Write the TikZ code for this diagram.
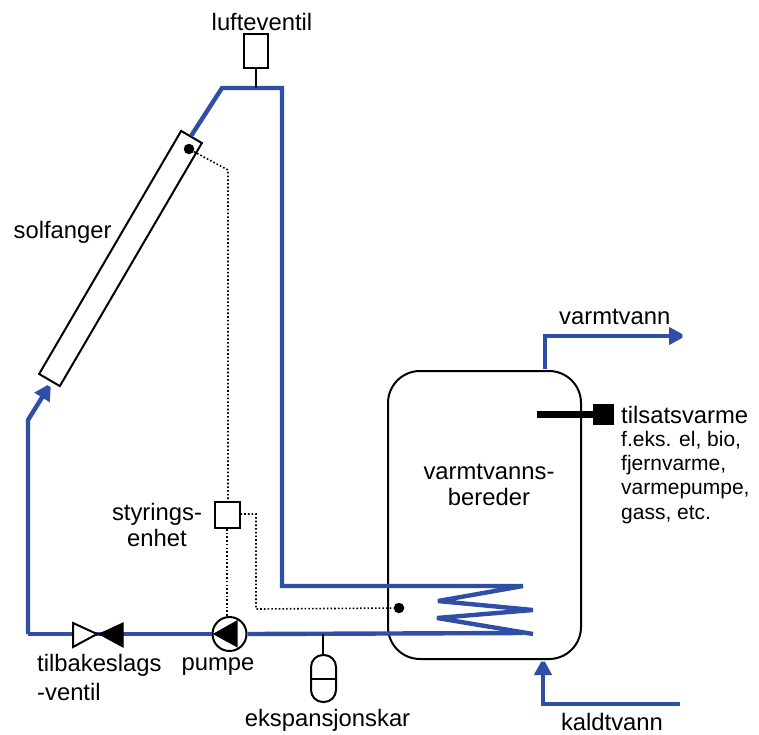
\documentclass[tikz,border=0pt]{standalone}
\usepackage{fontspec}
\setmainfont{Liberation Sans}
\usetikzlibrary{arrows.meta}
\definecolor{pipeblue}{HTML}{2E4FA5}
\tikzset{
  pipe/.style={draw=pipeblue,line width=4.4pt,line join=miter,miter limit=2},
  flow/.style={pipe,-{Triangle[length=17pt,width=17pt]}},
  wire/.style={draw=black,line width=2pt},
  signal/.style={draw=black,line width=1.6pt,dash pattern=on 1.6pt off 2.1pt},
  box/.style={draw=black,line width=2pt,fill=white,inner sep=0pt},
  sensor/.style={circle,fill=black,inner sep=0pt,minimum size=10.5pt},
  big/.style={inner sep=0pt,font=\fontsize{23.8}{26}\selectfont,align=center},
  lefttext/.style={inner sep=0pt,font=\fontsize{23.8}{29}\selectfont,align=left},
  small/.style={inner sep=0pt,font=\fontsize{21}{24.2}\selectfont,align=left}
}
\begin{document}
\begin{tikzpicture}[x=1pt,y=-1pt]
\useasboundingbox (0,0) rectangle (759,734);
% tank
\node[draw=black,line width=2pt,rounded corners=32pt,minimum width=193pt,minimum height=288pt,inner sep=0pt] (tank) at (484.5,515) {};
% named points
\coordinate (bl) at (28,634);
\coordinate (ml) at (28,420);
\coordinate (ct) at (222,88);
\coordinate (rt) at (282,88);
\coordinate (rb) at (282,586);
\coordinate (c0) at (523,586);
\coordinate (c1) at (438,601);
\coordinate (c2) at (533,610);
\coordinate (c3) at (437,618);
\coordinate (c4) at (533,634);
\coordinate (c5) at (523,633);
% collector
\node[box,rotate=59.7,minimum width=281.5pt,minimum height=24pt] (sol) at (120.5,258.5) {};
\coordinate (solin) at (51,383);
\coordinate (solout) at (191,136);
% pump and other nodes
\node[circle,draw=black,line width=2pt,fill=white,minimum size=34pt,inner sep=0pt] (pump) at (229.5,634) {};
\node[box,minimum width=24pt,minimum height=34pt] (air) at (256,51) {};
\coordinate (airfoot) at (256,88);
\node[box,minimum width=25pt,minimum height=26pt] (ctrl) at (227,515) {};
\node[box,rounded corners=12pt,minimum width=25pt,minimum height=47pt] (exp) at (323.5,678.5) {};
\coordinate (expfoot) at (323,634);
\node[sensor] (s1) at (189,149) {};
\node[sensor] (s2) at (399,608) {};
\coordinate (d1) at (228,170);
\coordinate (d2) at (256,514);
\coordinate (d3) at (256,609);
% pipes
\draw[flow] (bl) -- (ml) -- (solin);
\draw[pipe] (bl) -- (pump.west);
\draw[pipe] (pump.east) -- (c5);
\draw[pipe] (solout) -- (ct) -- (rt) -- (rb) -- (c0) -- (c1) -- (c2) -- (c3) -- (c4);
\coordinate (kin) at (680,704);
\coordinate (kc) at (543,704);
\coordinate (ktip) at (543,658);
\draw[flow] (kin) -- (kc) -- (ktip);
\coordinate (vs) at (545,369);
\coordinate (vc) at (545,336);
\coordinate (vtip) at (686,336);
\draw[flow] (vs) -- (vc) -- (vtip);
% valve
\draw[wire,fill=white,line join=miter] (73,623) -- (97,634) -- (73,647) -- cycle;
\fill[black,draw=black,line width=1pt] (123,623) -- (99,634) -- (123,647) -- cycle;
% pump triangle
\fill[black] (212.7,634) -- (237.5,620) -- (237.5,647.5) -- cycle;
% stems
\draw[wire] (air.south) -- (airfoot);
\draw[wire] (expfoot) -- (exp.north -| expfoot);
\draw[wire] (exp.west) -- (exp.east);
% heater
\coordinate (hs) at (537,414);
\node[fill=black,minimum size=21pt,inner sep=0pt] (heat) at (603.5,414.5) {};
\draw[draw=black,line width=7pt] (hs) -- (heat.west |- hs);
% signals
\draw[signal] (s1) -- (d1) -- (ctrl.north -| d1);
\draw[signal] (ctrl.south) -- (pump.north -| ctrl.south);
\draw[signal] (ctrl.east |- d2) -- (d2) -- (d3) -- (s2);
% labels
\node[big] (t1) at (262,22) {lufteventil};
\node[big,anchor=west] (t2) at (13.5,232) {solfanger};
\node[big,anchor=west] (t3) at (559,317) {varmtvann};
\node[big] (t4) at (489,485) {varmtvanns-\\bereder};
\node[big] (t5) at (157,525) {styrings-\\enhet};
\node[lefttext,anchor=north west] (t6) at (37,654.5) {tilbakeslags\\-ventil};
\node[big] (t7) at (218,667) {pumpe};
\node[big] (t8) at (327.5,720) {ekspansjonskar};
\node[big] (t9) at (612,722) {kaldtvann};
\node[big,anchor=west] (t10) at (621,415) {tilsatsvarme};
\node[small,anchor=north west] (t11) at (621,431) {f.eks. el, bio,\\fjernvarme,\\varmepumpe,\\gass, etc.};
\end{tikzpicture}
\end{document}
